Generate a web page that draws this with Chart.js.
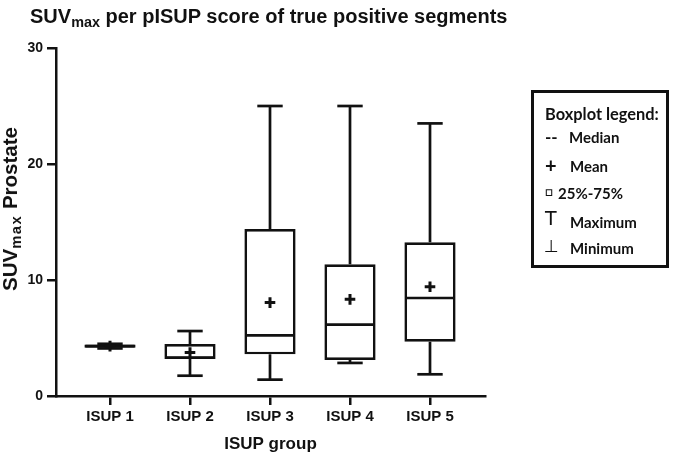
<!DOCTYPE html>
<html>
<head>
<meta charset="utf-8">
<script src="https://cdn.jsdelivr.net/npm/chart.js@4.4.1/dist/chart.umd.min.js"></script>
<style>
  html, body { margin: 0; padding: 0; background: #fff; }
  #wrap { position: relative; width: 685px; height: 456px; overflow: hidden; font-family: "Liberation Sans", Arial, sans-serif; color: #111; }
  #c { position: absolute; left: 0; top: 0; }
  #title { position: absolute; left: 30px; top: 5px; font-weight: bold; font-size: 20px; white-space: nowrap; }
  #title sub, #ytitle sub { font-size: 0.72em; vertical-align: -0.28em; line-height: 0; }
  #ytitle sub { letter-spacing: 1.5px; }
  #ytitle { position: absolute; left: 10px; top: 209px; transform: translate(-50%, -50%) rotate(-90deg); font-weight: bold; font-size: 20.5px; white-space: nowrap; }
  #legend { position: absolute; left: 531px; top: 90px; width: 132px; height: 172px; border: 3px solid #111; font-family: Lato, "Open Sans", sans-serif; font-weight: bold; color: #111; }
  #legend .hd { position: absolute; left: 11px; top: 11px; font-size: 16.4px; white-space: nowrap; }
  #legend .row { position: absolute; font-size: 15px; white-space: nowrap; }
  #legend .sym { position: absolute; font-size: 17px; }
</style>
</head>
<body>
<div id="wrap">
  <canvas id="c" width="685" height="456"></canvas>
  <div id="title">SUV<sub>max</sub> per pISUP score of true positive segments</div>
  <div id="ytitle">SUV<sub>max</sub> Prostate</div>
  <div id="legend">
    <div class="hd">Boxplot legend:</div>
    <div class="sym" style="left:11px;top:33px;">--</div><div class="row" style="left:35px;top:35px;">Median</div>
    <div class="sym" style="left:11px;top:60px;font-size:20px;">+</div><div class="row" style="left:36px;top:64px;">Mean</div>
    <div class="sym" style="left:11px;top:90px;font-size:13px;">&#9633;</div><div class="row" style="left:24px;top:91px;">25%-75%</div>
    <div class="sym" style="left:11px;top:114px;font-size:19px;font-family:'DejaVu Sans';font-weight:normal;">T</div><div class="row" style="left:36px;top:120px;">Maximum</div>
    <div class="sym" style="left:10px;top:143px;font-family:'DejaVu Sans';font-weight:normal;">&#8869;</div><div class="row" style="left:36px;top:146px;">Minimum</div>
  </div>
</div>
<script>
const categories = ["ISUP 1", "ISUP 2", "ISUP 3", "ISUP 4", "ISUP 5"];
const minimum  = [4.10, 1.75, 1.41, 2.85, 1.87];
const q1       = [4.15, 3.18, 3.59, 3.10, 4.68];
const median   = [4.30, 3.32, 5.23, 6.15, 8.45];
const q3       = [4.45, 4.48, 14.40, 11.35, 13.25];
const maximum  = [4.50, 5.60, 25.00, 25.00, 23.50];
const mean     = [4.30, 3.75, 8.05, 8.33, 9.42];
const yTicks   = [0, 10, 20, 30];

const ink = '#111';
const pos = categories.map((_, i) => i + 1);

const boxData = pos.map((x, i) => ({ x: x, y: [q1[i], q3[i]] }));
const whiskerData = [];
pos.forEach((x, i) => {
  whiskerData.push({ x: x, y: q3[i] }, { x: x, y: maximum[i] }, { x: x, y: null });
  whiskerData.push({ x: x, y: q1[i] }, { x: x, y: minimum[i] }, { x: x, y: null });
});
const capData = [];
pos.forEach((x, i) => { capData.push({ x: x, y: maximum[i] }, { x: x, y: minimum[i] }); });
const medianData = pos.map((x, i) => ({ x: x, y: median[i] }));
const meanData = pos.map((x, i) => ({ x: x, y: mean[i] }));

new Chart(document.getElementById('c'), {
  type: 'bar',
  data: {
    datasets: [
      { type: 'line', data: whiskerData, borderColor: ink, borderWidth: 2.7, pointRadius: 0, spanGaps: false, order: 3 },
      { type: 'bar', data: boxData, backgroundColor: '#fff', borderColor: ink, borderWidth: 2.7, borderSkipped: false, barPercentage: 0.8, categoryPercentage: 0.8, order: 2 },
      { type: 'scatter', data: capData, pointStyle: 'line', pointRadius: 12.7, borderColor: ink, borderWidth: 2.7, order: 1 },
      { type: 'scatter', data: medianData, pointStyle: 'line', pointRadius: 24.5, borderColor: ink, borderWidth: 2.7, order: 1 },
      { type: 'scatter', data: meanData, pointStyle: 'cross', pointRadius: 5.3, borderColor: ink, borderWidth: 3, order: 0 }
    ]
  },
  options: {
    responsive: false,
    animation: false,
    events: [],
    layout: { padding: { top: 48, right: 200, left: 0, bottom: 0 } },
    plugins: { legend: { display: false }, tooltip: { enabled: false }, title: { display: false } },
    scales: {
      x: {
        type: 'linear',
        offset: false,
        min: 0.325,
        max: 5.6875,
        afterBuildTicks: (s) => { s.ticks = pos.map(v => ({ value: v })); },
        afterFit: (s) => { s.height = 60; },
        grid: { display: true, offset: false, drawOnChartArea: false, drawTicks: true, tickLength: 9, color: ink, lineWidth: 2.5 },
        border: { display: true, color: ink, width: 2.5 },
        ticks: {
          color: ink,
          padding: 3,
          font: { family: '"Liberation Sans", Arial, sans-serif', weight: 'bold', size: 15 },
          callback: (v) => categories[v - 1] || ''
        },
        title: { display: true, text: 'ISUP group', color: ink, padding: { top: 0, bottom: 1 }, font: { family: '"Liberation Sans", Arial, sans-serif', weight: 'bold', size: 17 } }
      },
      y: {
        min: 0,
        max: 30,
        afterBuildTicks: (s) => { s.ticks = yTicks.map(v => ({ value: v })); },
        afterFit: (s) => { s.width = 56; },
        grid: { display: true, drawOnChartArea: false, drawTicks: true, tickLength: 9, color: ink, lineWidth: 2.5 },
        border: { display: true, color: ink, width: 2.5 },
        ticks: { color: ink, padding: 4, font: { family: '"Liberation Sans", Arial, sans-serif', weight: 'bold', size: 14 } }
      }
    }
  }
});
</script>
</body>
</html>
